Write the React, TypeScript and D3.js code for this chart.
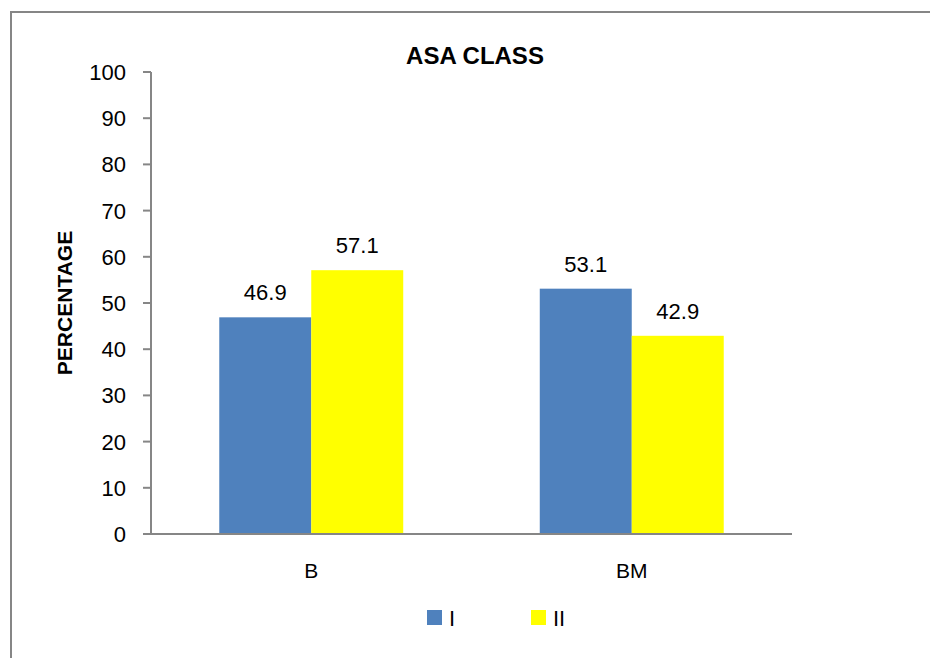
import React from "react";
import * as d3 from "d3";

const categories = ["B", "BM"];
const seriesNames = ["I", "II"];
const seriesI = [46.9, 53.1];
const seriesII = [57.1, 42.9];
const yTicks = [0, 10, 20, 30, 40, 50, 60, 70, 80, 90, 100];
const colors = ["#4F81BD", "#FFFF00"];

const W = 930;
const H = 658;
const FONT = "'Liberation Sans', Arial, sans-serif";

export default function App() {
  const left = 151;
  const right = 792;
  const top = 72;
  const bottom = 534;

  const y = d3.scaleLinear().domain([0, 100]).range([bottom, top]);
  const x0 = d3.scaleBand<string>().domain(categories).range([left, right]).padding(0);
  const bw = x0.bandwidth();
  const gw = bw * 0.574;
  const x1 = d3
    .scaleBand<string>()
    .domain(seriesNames)
    .range([(bw - gw) / 2, (bw + gw) / 2])
    .padding(0);

  const values = [seriesI, seriesII];

  return (
    <div style={{ position: "absolute", left: 0, top: 0 }}>
      <svg width={W} height={H} style={{ display: "block", fontFamily: FONT }}>
        <rect x={0} y={0} width={W} height={H} fill="#fff" />
        <rect x={11} y={12} width={W + 10} height={H + 10} fill="none" stroke="#868686" strokeWidth={2} />
        <text x={475} y={64} textAnchor="middle" fontSize={24} fontWeight="bold" fill="#000">
          ASA CLASS
        </text>
        <text
          transform={`translate(72,${(top + bottom) / 2}) rotate(-90)`}
          textAnchor="middle"
          fontSize={21}
          fontWeight="bold"
          fill="#000"
        >
          PERCENTAGE
        </text>
        {categories.map((c, ci) =>
          seriesNames.map((s, si) => {
            const v = values[si][ci];
            const bx = (x0(c) as number) + (x1(s) as number);
            return (
              <g key={c + s}>
                <rect x={bx} y={y(v)} width={x1.bandwidth()} height={bottom - y(v)} fill={colors[si]} />
                <text
                  x={bx + x1.bandwidth() / 2}
                  y={y(v) - 17}
                  textAnchor="middle"
                  fontSize={22}
                  fill="#000"
                >
                  {v.toFixed(1)}
                </text>
              </g>
            );
          })
        )}
        {/* y axis */}
        <line x1={left} x2={left} y1={top} y2={bottom} stroke="#868686" strokeWidth={2} />
        {yTicks.map((t) => (
          <g key={t}>
            <line x1={left - 8} x2={left} y1={y(t)} y2={y(t)} stroke="#868686" strokeWidth={2} />
            <text x={left - 25} y={y(t) + 8} textAnchor="end" fontSize={22} fill="#000">
              {t}
            </text>
          </g>
        ))}
        {/* x axis */}
        <line x1={left - 8} x2={right} y1={bottom} y2={bottom} stroke="#868686" strokeWidth={2} />
        {categories.map((c) => (
          <text
            key={c}
            x={(x0(c) as number) + bw / 2}
            y={578}
            textAnchor="middle"
            fontSize={21}
            fill="#000"
          >
            {c}
          </text>
        ))}
        {/* legend */}
        {seriesNames.map((s, i) => (
          <g key={s} transform={`translate(${427 + i * 104},610)`}>
            <rect x={0} y={0} width={15} height={15} fill={colors[i]} />
            <text x={22} y={15.5} fontSize={22} fill="#000">
              {s}
            </text>
          </g>
        ))}
      </svg>
    </div>
  );
}
